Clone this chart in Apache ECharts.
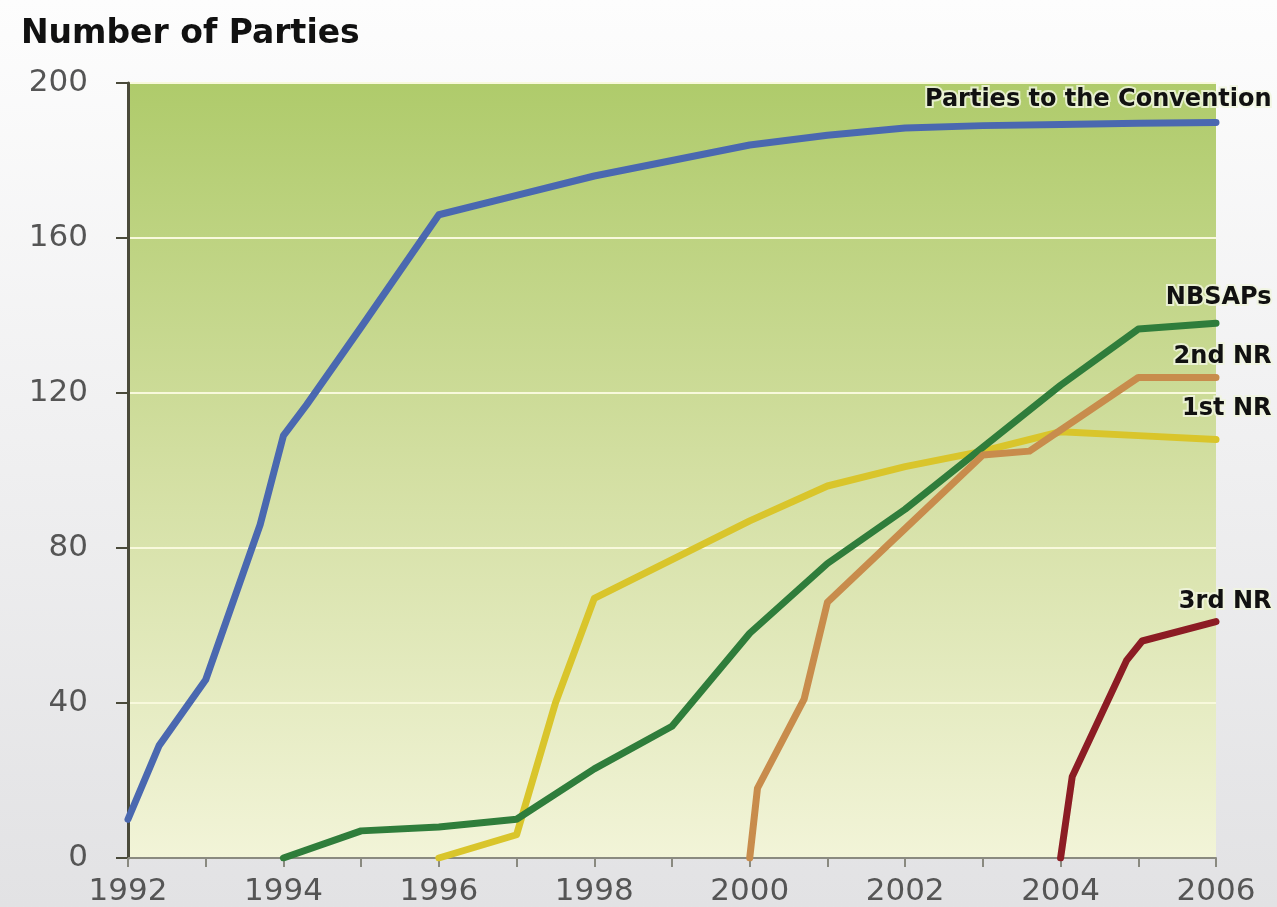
<!DOCTYPE html>
<html>
<head>
<meta charset="utf-8">
<title>Number of Parties</title>
<script src="https://cdn.jsdelivr.net/npm/echarts@6/dist/echarts.min.js"></script>
<style>
  html, body { margin: 0; padding: 0; }
  body { background: linear-gradient(#fdfdfd, #e2e2e4); }
  #chart { width: 1277px; height: 907px; }
</style>
</head>
<body>
<div id="chart"></div>
<script>
// 年份刻度 (only even years get a label)
var years = [1992, 1993, 1994, 1995, 1996, 1997, 1998, 1999, 2000, 2001, 2002, 2003, 2004, 2005, 2006];
var yTicks = [0, 40, 80, 120, 160, 200];

// [year, number of parties]
var parties = [[1992, 10], [1992.4, 29], [1993, 46], [1993.7, 86], [1994, 109], [1994.3, 117],
  [1995, 137], [1996, 166], [1997, 171], [1998, 176], [1999, 180], [2000, 184], [2001, 186.5],
  [2002, 188.4], [2003, 189], [2004, 189.3], [2005, 189.6], [2006, 189.8]];
var nbsaps = [[1994, 0], [1995, 7], [1996, 8], [1997, 10], [1998, 23], [1999, 34], [2000, 58],
  [2001, 76], [2002, 90], [2003, 106], [2004, 122], [2005, 136.5], [2006, 138]];
var firstNR = [[1996, 0], [1997, 6], [1997.5, 40], [1998, 67], [1999, 77], [2000, 87], [2001, 96],
  [2002, 101], [2003, 105], [2004, 110], [2005, 109], [2006, 108]];
var secondNR = [[2000, 0], [2000.1, 18], [2000.7, 41], [2001, 66], [2002, 85], [2003, 104],
  [2003.6, 105], [2005, 124], [2006, 124]];
var thirdNR = [[2004, 0], [2004.15, 21], [2004.85, 51], [2005.05, 56], [2006, 61]];

var names = ['Parties to the Convention', 'NBSAPs', '2nd NR', '1st NR', '3rd NR'];
var seriesData = [parties, nbsaps, secondNR, firstNR, thirdNR];
var colors = ['#4a68b0', '#2f7d3b', '#c88c4c', '#d9c52b', '#8c1c24'];
var labelDy = [-22, -25, -20, -30, -19];

var myChart = echarts.init(document.getElementById('chart'));

var series = [];
for (var i = 0; i < names.length; i++) {
  var d = seriesData[i];
  var last = d[d.length - 1];
  series.push({
    name: names[i],
    type: 'line',
    data: d,
    showSymbol: false,
    z: i === 3 ? 1 : 2,
    lineStyle: { color: colors[i], width: 7, cap: 'round', join: 'round' },
    // series name written above the end of each line
    markPoint: {
      symbol: 'circle',
      symbolSize: 1,
      itemStyle: { color: 'transparent' },
      silent: true,
      data: [{ coord: last }],
      label: {
        show: true,
        formatter: names[i],
        position: [56, labelDy[i]],
        align: 'right',
        verticalAlign: 'middle',
        color: '#111',
        fontFamily: 'DejaVu Sans',
        fontWeight: 'bold',
        fontSize: 24,
        textBorderColor: 'rgba(240,244,222,0.85)',
        textBorderWidth: 4
      }
    }
  });
}

var option = {
  animation: false,
  title: {
    text: 'Number of Parties',
    left: 16,
    top: 13,
    textStyle: { fontFamily: 'DejaVu Sans', fontWeight: 'bold', fontSize: 33, color: '#111' }
  },
  grid: {
    left: 128, right: 61, top: 83, bottom: 49,
    show: true,
    borderWidth: 0,
    backgroundColor: new echarts.graphic.LinearGradient(0, 0, 0, 1, [
      { offset: 0, color: '#afcb6b' },
      { offset: 0.5, color: '#d3dfa2' },
      { offset: 1, color: '#f2f4d8' }
    ])
  },
  xAxis: {
    type: 'value',
    min: years[0],
    max: years[years.length - 1],
    interval: 1,
    axisLine: { show: true, lineStyle: { color: '#8a8a80', width: 2 } },
    axisTick: { show: true, length: 9, lineStyle: { color: '#8a8a80', width: 2 } },
    splitLine: { show: false },
    axisLabel: {
      margin: 18,
      color: '#555',
      fontFamily: 'DejaVu Sans',
      fontSize: 31,
      formatter: function (v) { return v % 2 === 0 ? String(v) : ''; }
    }
  },
  yAxis: {
    type: 'value',
    min: yTicks[0],
    max: yTicks[yTicks.length - 1],
    interval: 40,
    axisLine: { show: true, lineStyle: { color: '#4a4a3a', width: 3 } },
    axisTick: { show: true, length: 12, lineStyle: { color: '#4a4a3a', width: 2 } },
    splitLine: { show: true, lineStyle: { color: '#f8f9dc', width: 2 } },
    axisLabel: {
      margin: 40,
      color: '#555',
      fontFamily: 'DejaVu Sans',
      fontSize: 31
    }
  },
  series: series
};

myChart.setOption(option);
</script>
</body>
</html>
